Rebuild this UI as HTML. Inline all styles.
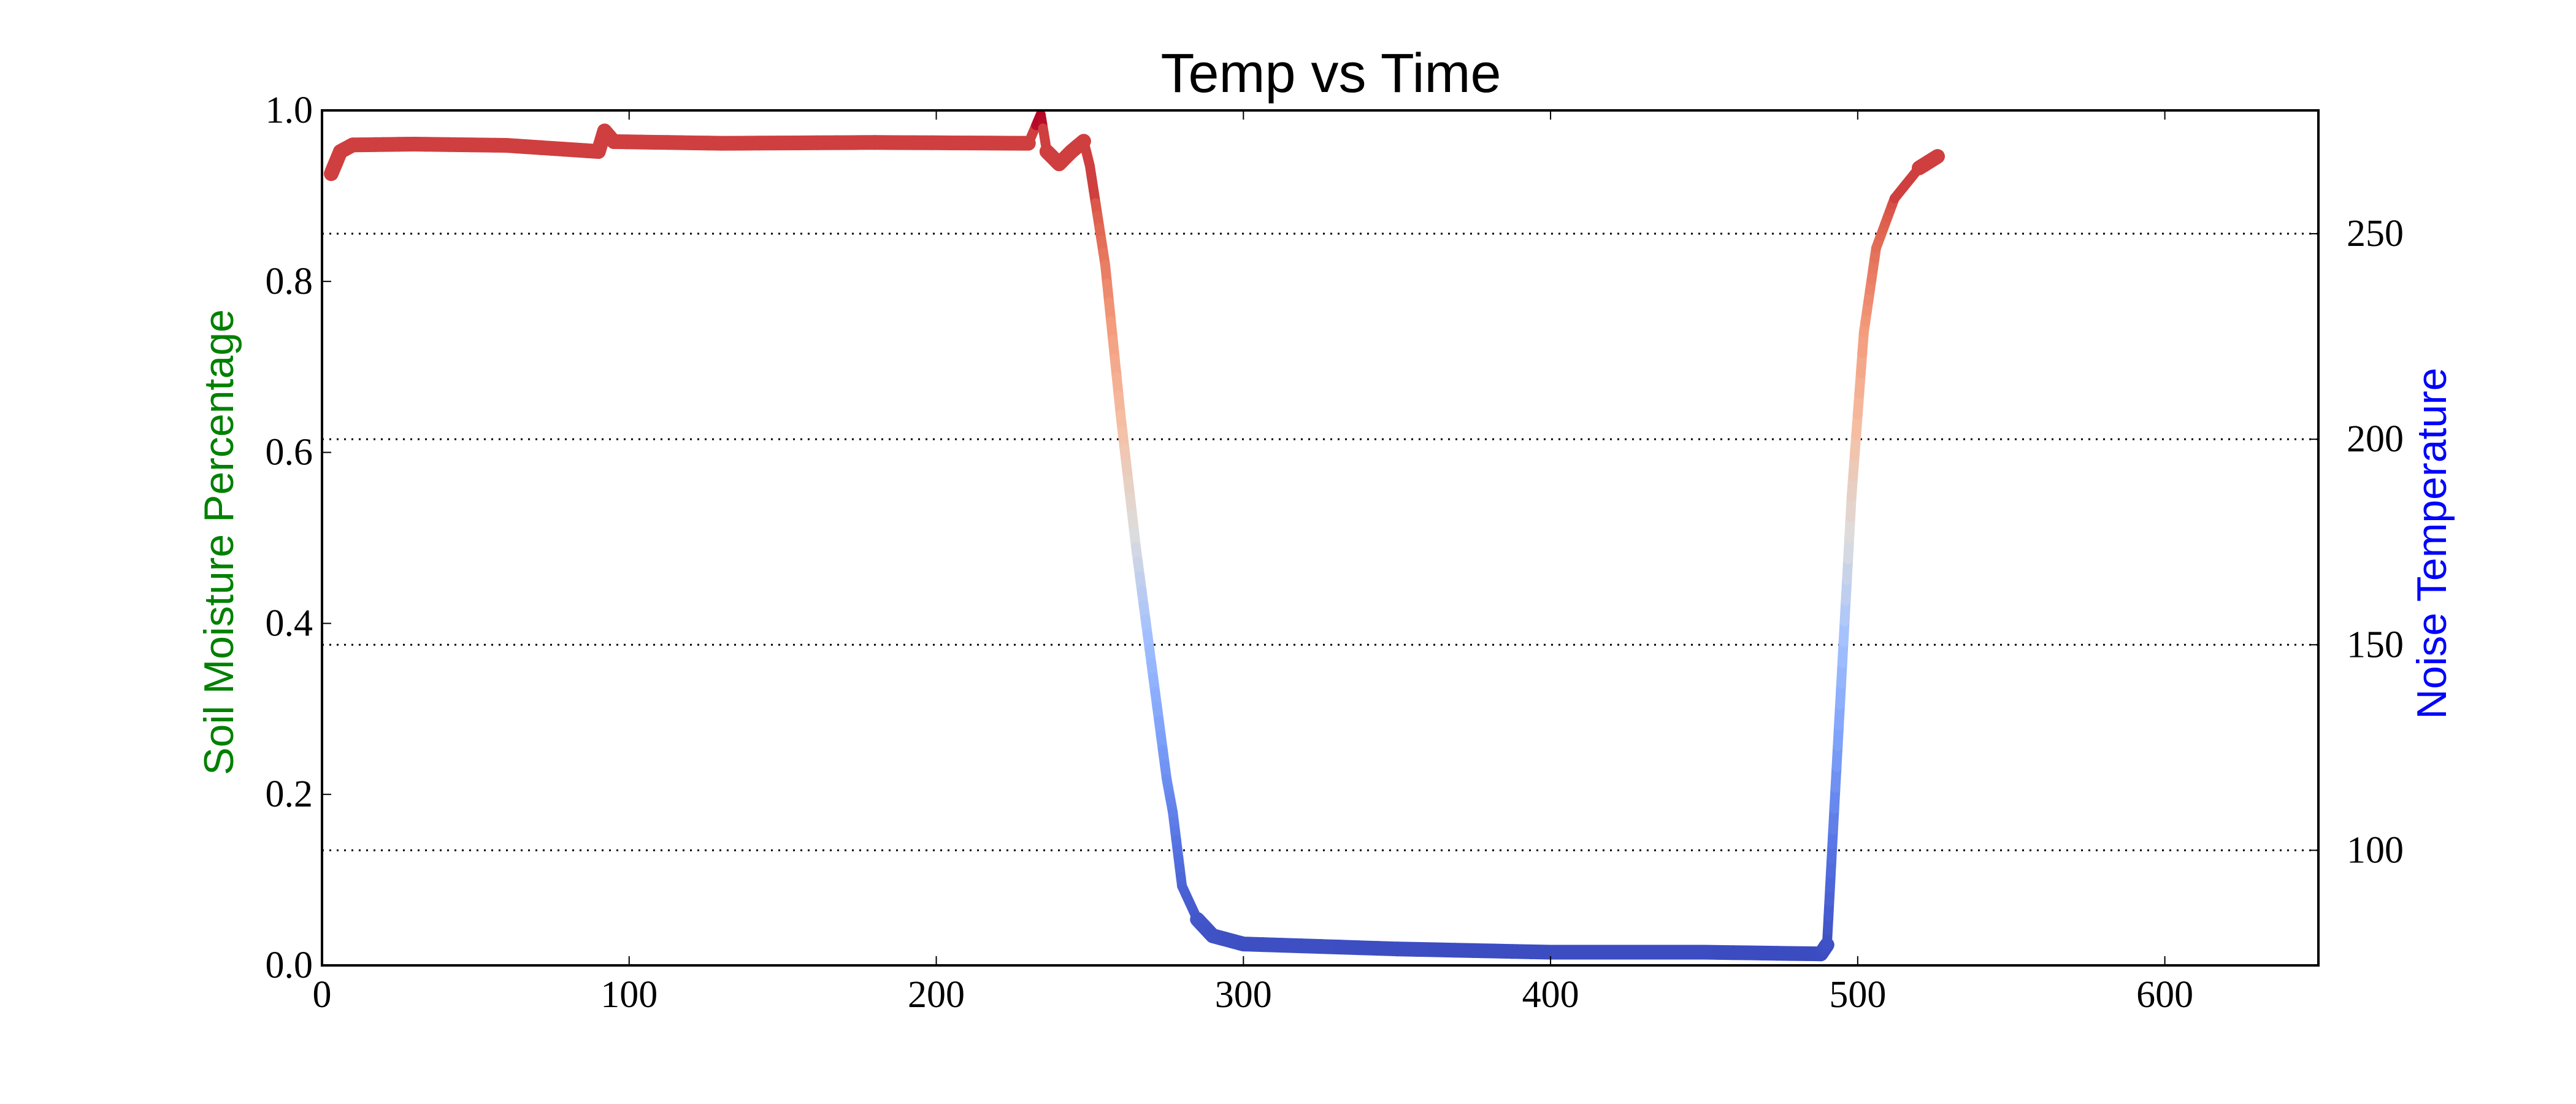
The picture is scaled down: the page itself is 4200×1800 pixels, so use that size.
<!DOCTYPE html>
<html><head><meta charset="utf-8"><style>
html,body{margin:0;padding:0;background:#fff;}
svg{display:block;}
.tk{font-family:"Liberation Serif",serif;font-size:62px;fill:#000;}
</style></head><body>
<svg id="chart" width="4200" height="1800" viewBox="0 0 4200 1800" xmlns="http://www.w3.org/2000/svg">
<rect width="4200" height="1800" fill="#fff"/>
<text x="2170" y="150" text-anchor="middle" font-family="Liberation Sans, sans-serif" font-size="90">Temp vs Time</text>
<g id="grid"></g>
<g id="series"></g>
<g id="axes"></g>
<text transform="translate(380,884) rotate(-90)" text-anchor="middle" font-family="Liberation Sans, sans-serif" font-size="68" fill="#008000">Soil Moisture Percentage</text>
<text transform="translate(3988,886) rotate(-90)" text-anchor="middle" font-family="Liberation Sans, sans-serif" font-size="68" fill="#0000ff">Noise Temperature</text>
</svg>
<script>
const times = [3,6,10,30,60,90,92,95,130,180,230,234,236,240,244,248,250,255,260,265,270,275,277,280,285,290,300,350,400,450,488,490,492,495,498,502,506,512,520,526];
const temps = [264.6,270,271.6,271.8,271.5,270,275,272.4,272,272.2,272,279,270,267,270,272.5,266.5,242.4,206,173.8,145.6,117.4,109.3,91.3,83.2,79.2,77.2,76,75.2,75.2,74.8,77,105,145.6,186,226,246.5,258.6,266,268.8];
const xTicks = [0,100,200,300,400,500,600];
const leftTicks = ["0.0","0.2","0.4","0.6","0.8","1.0"];
const rightTicks = [100,150,200,250];

const L=525,R=3780,T=180,B=1574;
const xMin=0,xMax=650,rMin=72,rMax=280;
const X=v=>L+(v-xMin)/(xMax-xMin)*(R-L);
const YR=v=>B-(v-rMin)/(rMax-rMin)*(B-T);
const YL=v=>B-v*(B-T);
const NS="http://www.w3.org/2000/svg";
function mk(tag,attrs,parent){const e=document.createElementNS(NS,tag);for(const k in attrs)e.setAttribute(k,attrs[k]);parent.appendChild(e);return e;}

const stops=[[0,[59,76,192]],[0.125,[85,114,227]],[0.25,[123,159,249]],[0.375,[162,192,255]],[0.5,[221,221,221]],[0.625,[245,191,164]],[0.75,[244,154,123]],[0.875,[222,96,77]],[1,[180,4,38]]];
function cw(t){t=Math.max(0,Math.min(1,t));for(let i=1;i<stops.length;i++){if(t<=stops[i][0]){const a=stops[i-1],b=stops[i];const f=(t-a[0])/(b[0]-a[0]);const c=a[1].map((v,j)=>Math.round(v+(b[1][j]-v)*f));return `rgb(${c[0]},${c[1]},${c[2]})`;}}return "rgb(180,4,38)";}

const grid=document.getElementById('grid');
rightTicks.forEach(v=>{
  const l=mk('line',{x1:L,x2:R,y1:YR(v),y2:YR(v),stroke:'#000','stroke-width':3,'stroke-dasharray':'3 9'},grid);
  
  
});

const ser=document.getElementById('series');
const tMin=Math.min(...temps),tMax=Math.max(...temps);
for(let i=0;i<times.length-1;i++){
  const n=8;
  for(let k=0;k<n;k++){
    const f0=k/n,f1=(k+1)/n;
    const x0=times[i]+(times[i+1]-times[i])*f0,x1=times[i]+(times[i+1]-times[i])*f1;
    const y0=temps[i]+(temps[i+1]-temps[i])*f0,y1=temps[i]+(temps[i+1]-temps[i])*f1;
    const flat=Math.abs(temps[i+1]-temps[i])<6;
    let tn=((y0+y1)/2-tMin)/(tMax-tMin);
    if(tn>0.9 && (y0+y1)/2<276) tn=0.92;
    const seg=mk('line',{x1:X(x0),y1:YR(y0),x2:X(x1),y2:YR(y1),stroke:cw(tn),'stroke-width':flat?24:16,'stroke-linecap':'round'},ser);
    
    
  }
}

const ax=document.getElementById('axes');
const fr=mk('rect',{x:L,y:T,width:R-L,height:B-T,fill:'none',stroke:'#000','stroke-width':4},ax);


xTicks.forEach(v=>{
  mk('line',{x1:X(v),x2:X(v),y1:B,y2:B-15,stroke:'#000','stroke-width':2},ax);
  mk('line',{x1:X(v),x2:X(v),y1:T,y2:T+15,stroke:'#000','stroke-width':2},ax);
  const t=mk('text',{x:X(v),y:1642,'text-anchor':'middle',class:'tk'},ax);
  t.textContent=v;
  
  
});
leftTicks.forEach(s=>{
  const v=parseFloat(s);
  mk('line',{x1:L,x2:L+15,y1:YL(v),y2:YL(v),stroke:'#000','stroke-width':2},ax);
  const t=mk('text',{x:510,y:YL(v)+20,'text-anchor':'end',class:'tk'},ax);
  t.textContent=s;
  
  
});
rightTicks.forEach(v=>{
  mk('line',{x1:R,x2:R-15,y1:YR(v),y2:YR(v),stroke:'#000','stroke-width':2},ax);
  const t=mk('text',{x:3826,y:YR(v)+20,'text-anchor':'start',class:'tk'},ax);
  t.textContent=v;
  
  
});
</script>
</body></html>
